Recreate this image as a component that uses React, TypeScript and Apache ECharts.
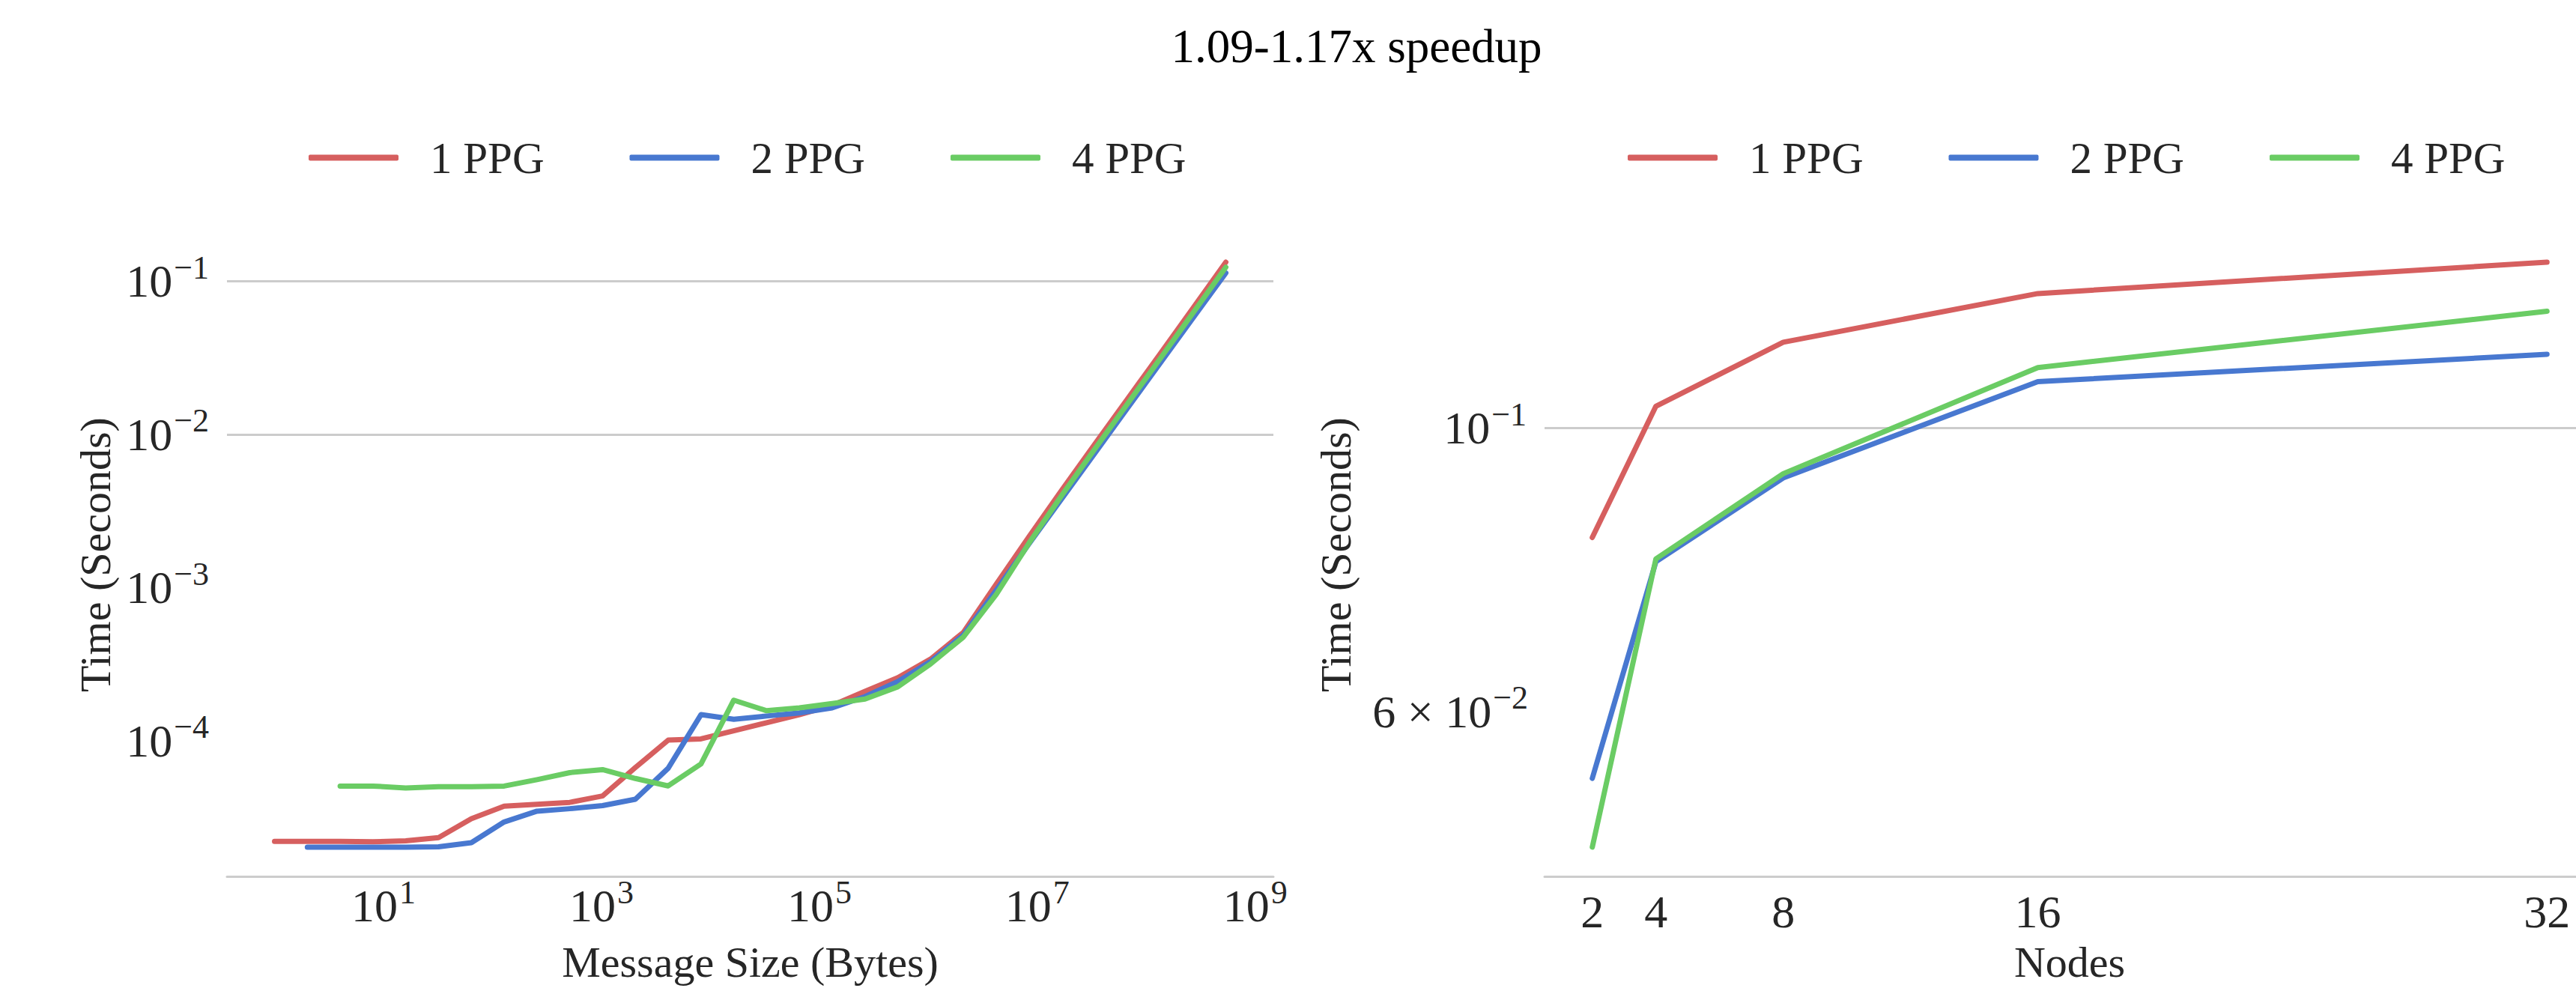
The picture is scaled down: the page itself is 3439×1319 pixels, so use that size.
import React, { useEffect, useRef } from 'react';
import * as echarts from 'echarts';

// ---------- data ----------
const messageSizes = [
  1, 2, 4, 8, 16, 32, 64, 128, 256, 512, 1024, 2048, 4096, 8192, 16384, 32768, 65536,
  131072, 262144, 524288, 1048576, 2097152, 4194304, 8388608, 16777216, 33554432,
  67108864, 134217728, 268435456, 536870912,
];
const msgTime1PPG = [
  2.2e-5, 2.2e-5, 2.2e-5, 2.19e-5, 2.22e-5, 2.33e-5, 3.1e-5, 3.74e-5, 3.85e-5, 3.96e-5,
  4.36e-5, 6.68e-5, 1.009e-4, 1.028e-4, 1.16e-4, 1.31e-4, 1.48e-4, 1.7e-4, 2.1e-4, 2.58e-4,
  3.41e-4, 5.1e-4, 1.05e-3, 2.15e-3, 4.33e-3, 8.6e-3, 1.7e-2, 3.36e-2, 6.66e-2, 0.1329,
];
const msgTime2PPG = [
  null, 2.02e-5, 2.02e-5, 2.02e-5, 2.02e-5, 2.03e-5, 2.16e-5, 2.95e-5, 3.47e-5, 3.6e-5,
  3.77e-5, 4.15e-5, 6.61e-5, 1.48e-4, 1.38e-4, 1.45e-4, 1.52e-4, 1.64e-4, 1.94e-4, 2.43e-4,
  3.29e-4, 4.9e-4, 9.6e-4, 1.93e-3, 3.8e-3, 7.5e-3, 1.48e-2, 2.92e-2, 5.75e-2, 0.1131,
];
const msgTime4PPG = [
  null, null, 5.05e-5, 5.06e-5, 4.92e-5, 5.01e-5, 5.01e-5, 5.06e-5, 5.57e-5, 6.19e-5,
  6.48e-5, 5.67e-5, 5.07e-5, 7.05e-5, 1.84e-4, 1.57e-4, 1.64e-4, 1.75e-4, 1.87e-4, 2.25e-4,
  3.17e-4, 4.75e-4, 9.0e-4, 1.95e-3, 4.0e-3, 8.0e-3, 1.58e-2, 3.12e-2, 6.2e-2, 0.1232,
];

const nodeCounts = [2, 4, 8, 16, 32];
const nodeTime1PPG = [0.0821, 0.104, 0.1167, 0.1274, 0.1348];
const nodeTime2PPG = [0.0532, 0.0786, 0.0914, 0.1087, 0.1142];
const nodeTime4PPG = [0.047, 0.079, 0.0921, 0.1115, 0.1234];

const seriesNames = ['1 PPG', '2 PPG', '4 PPG'];
const seriesColors = ['#d65f5f', '#4878d0', '#6acc64'];
const leftGridValues = [1e-1, 1e-2, 1e-3, 1e-4];
const rightGridValues = [1e-1];
const rightMinorLabelValue = 0.06;
const rightMinorLabelText = '{n|6 × 10}{s|−2}';
const nodeTickLabels = [2, 4, 8, 16, 32];

const TITLE = '1.09-1.17x speedup';
const FONT = '"Liberation Serif", "Times New Roman", serif';
const TEXT = '#262626';
const GRID_COLOR = '#cccccc';

// ---------- helpers ----------
function pairs(xs: number[], ys: (number | null)[]) {
  const out: number[][] = [];
  xs.forEach((x, i) => {
    const y = ys[i];
    if (y != null) out.push([x, y]);
  });
  return out;
}
function logRange(values: number[], frac = 0.05): [number, number] {
  const logs = values.map((v) => Math.log10(v));
  const lo = Math.min(...logs);
  const hi = Math.max(...logs);
  const pad = (hi - lo) * frac;
  return [Math.pow(10, lo - pad), Math.pow(10, hi + pad)];
}
function linRange(values: number[], frac = 0.05): [number, number] {
  const lo = Math.min(...values);
  const hi = Math.max(...values);
  const pad = (hi - lo) * frac;
  return [lo - pad, hi + pad];
}
function pow10Label(v: number, keep: (r: number) => boolean) {
  const e = Math.log10(v);
  const r = Math.round(e);
  if (Math.abs(e - r) > 1e-6 || !keep(r)) return '';
  return `{b|10}{s|${r < 0 ? '−' : ''}${Math.abs(r)}}`;
}

const rich = {
  b: { fontFamily: FONT, fontSize: 62, color: TEXT, lineHeight: 62, verticalAlign: 'bottom' },
  n: { fontFamily: FONT, fontSize: 62, color: TEXT, lineHeight: 62, verticalAlign: 'bottom' },
  s: {
    fontFamily: FONT,
    fontSize: 44,
    color: TEXT,
    lineHeight: 44,
    verticalAlign: 'bottom',
    padding: [0, 0, 27, 2],
  },
};

const nameStyle = { fontFamily: FONT, fontSize: 58, color: TEXT, lineHeight: 60 };

export default function App() {
  const ref = useRef<HTMLDivElement>(null);

  useEffect(() => {
    document.body.style.margin = '0';
    if (!ref.current) return;
    const chart = echarts.init(ref.current, undefined, { renderer: 'svg' });

    const leftAll = [...msgTime1PPG, ...msgTime2PPG, ...msgTime4PPG].filter(
      (v) => v != null,
    ) as number[];
    const leftY = logRange(leftAll);
    const leftX = logRange(messageSizes);
    const rightY = logRange([...nodeTime1PPG, ...nodeTime2PPG, ...nodeTime4PPG]);
    const rightX = linRange(nodeCounts);

    const msgSeries = [msgTime1PPG, msgTime2PPG, msgTime4PPG];
    const nodeSeries = [nodeTime1PPG, nodeTime2PPG, nodeTime4PPG];

    const gridMarkLine = (values: number[], extra: any[] = []) => ({
      silent: true,
      z: 1,
      symbol: ['none', 'none'],
      label: { show: false },
      emphasis: { disabled: true },
      lineStyle: { color: GRID_COLOR, width: 3, type: 'solid' },
      data: [...values.map((v) => ({ yAxis: v })), ...extra],
    });

    const lineStyleFor = (i: number) => ({
      color: seriesColors[i],
      width: 7,
      cap: 'round',
      join: 'round',
    });

    const series: any[] = [];
    seriesNames.forEach((name, i) => {
      series.push({
        type: 'line',
        name,
        xAxisIndex: 0,
        yAxisIndex: 0,
        data: pairs(messageSizes, msgSeries[i]),
        showSymbol: false,
        symbol: 'none',
        z: 2,
        itemStyle: { color: seriesColors[i] },
        lineStyle: lineStyleFor(i),
        emphasis: { disabled: true },
        markLine: i === 0 ? gridMarkLine(leftGridValues) : undefined,
      });
    });
    seriesNames.forEach((name, i) => {
      series.push({
        type: 'line',
        name,
        xAxisIndex: 1,
        yAxisIndex: 1,
        data: pairs(nodeCounts, nodeSeries[i]),
        showSymbol: false,
        symbol: 'none',
        z: 2,
        itemStyle: { color: seriesColors[i] },
        lineStyle: lineStyleFor(i),
        emphasis: { disabled: true },
        markLine:
          i === 0
            ? gridMarkLine(rightGridValues, [
                {
                  yAxis: rightMinorLabelValue,
                  lineStyle: { color: 'rgba(0,0,0,0)', width: 1, opacity: 1 },
                  label: {
                    show: true,
                    position: 'start',
                    distance: 22,
                    color: TEXT,
                    opacity: 1,
                    formatter: rightMinorLabelText,
                    rich,
                  },
                },
              ])
            : undefined,
      });
    });

    const legendBase = {
      top: 181,
      padding: 0,
      itemWidth: 120,
      itemHeight: 8,
      itemGap: 114,
      icon: 'roundRect',
      data: seriesNames,
      textStyle: {
        fontFamily: FONT,
        fontSize: 59,
        color: TEXT,
        lineHeight: 58,
        padding: [0, 0, 0, 37],
      },
    };

    const option: any = {
      animation: false,
      backgroundColor: '#ffffff',
      title: {
        text: TITLE,
        left: 1811,
        top: 30,
        padding: 0,
        textAlign: 'center',
        textVerticalAlign: 'top',
        textStyle: {
          fontFamily: FONT,
          fontSize: 63,
          fontWeight: 'normal',
          color: '#000000',
          lineHeight: 63,
        },
      },
      legend: [
        { ...legendBase, left: 412 },
        { ...legendBase, left: 2173 },
      ],
      grid: [
        { left: 303, top: 311, width: 1397, height: 859, containLabel: false, outerBoundsMode: 'none' },
        { left: 2062, top: 311, width: 1402, height: 859, containLabel: false, outerBoundsMode: 'none' },
      ],
      xAxis: [
        {
          type: 'log',
          gridIndex: 0,
          logBase: 10,
          min: leftX[0],
          max: leftX[1],
          axisLine: { show: true, onZero: false, lineStyle: { color: GRID_COLOR, width: 3 } },
          axisTick: { show: false },
          splitLine: { show: false },
          minorTick: { show: false },
          minorSplitLine: { show: false },
          axisLabel: {
            formatter: (v: number) => pow10Label(v, (r) => r > 0 && r % 2 === 1),
            rich,
            margin: 8,
            hideOverlap: false,
          },
          name: 'Message Size (Bytes)',
          nameLocation: 'middle',
          nameGap: 84,
          nameTextStyle: nameStyle,
        },
        {
          type: 'value',
          gridIndex: 1,
          min: rightX[0],
          max: rightX[1],
          interval: 0.5,
          axisLine: { show: true, onZero: false, lineStyle: { color: GRID_COLOR, width: 3 } },
          axisTick: { show: false },
          splitLine: { show: false },
          axisLabel: {
            formatter: (v: number) => (nodeTickLabels.includes(v) ? String(v) : ''),
            fontFamily: FONT,
            fontSize: 62,
            color: TEXT,
            lineHeight: 62,
            margin: 16,
            hideOverlap: false,
            showMinLabel: true,
            showMaxLabel: true,
          },
          name: 'Nodes',
          nameLocation: 'middle',
          nameGap: 84,
          nameTextStyle: nameStyle,
        },
      ],
      yAxis: [
        {
          type: 'log',
          gridIndex: 0,
          logBase: 10,
          min: leftY[0],
          max: leftY[1],
          axisLine: { show: false },
          axisTick: { show: false },
          splitLine: { show: false },
          minorTick: { show: false },
          minorSplitLine: { show: false },
          axisLabel: {
            formatter: (v: number) => pow10Label(v, () => true),
            rich,
            margin: 24,
            hideOverlap: false,
          },
          name: 'Time (Seconds)',
          nameLocation: 'middle',
          nameGap: 146,
          nameTextStyle: nameStyle,
        },
        {
          type: 'log',
          gridIndex: 1,
          logBase: 10,
          min: rightY[0],
          max: rightY[1],
          axisLine: { show: false },
          axisTick: { show: false },
          splitLine: { show: false },
          minorTick: { show: false },
          minorSplitLine: { show: false },
          axisLabel: {
            formatter: (v: number) => pow10Label(v, () => true),
            rich,
            margin: 24,
            hideOverlap: false,
          },
          name: 'Time (Seconds)',
          nameLocation: 'middle',
          nameGap: 249,
          nameTextStyle: nameStyle,
        },
      ],
      series,
    };

    chart.setOption(option);
    return () => {
      chart.dispose();
    };
  }, []);

  return <div ref={ref} style={{ width: '3439px', height: '1319px' }} />;
}
